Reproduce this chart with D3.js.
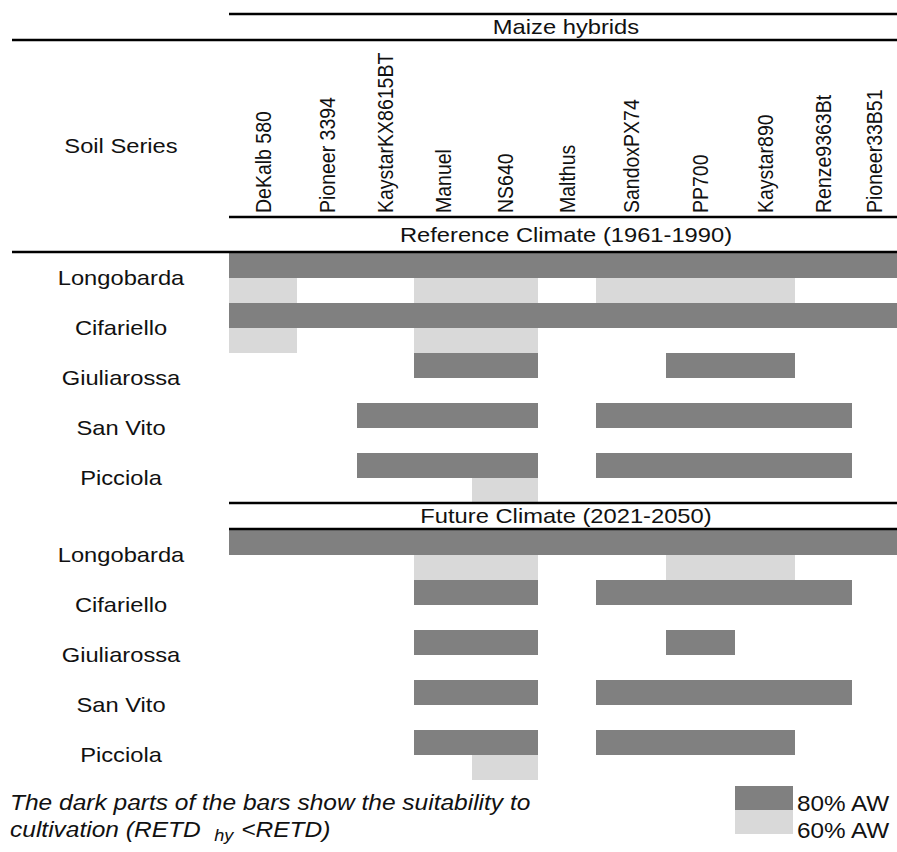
<!DOCTYPE html>
<html>
<head>
<meta charset="utf-8">
<script src="https://cdn.jsdelivr.net/npm/d3@7"></script>
<style>
  html, body { margin: 0; padding: 0; background: #fff; }
  svg { display: block; }
  text { font-family: "Liberation Sans", Arial, Helvetica, sans-serif; fill: #111; }
</style>
</head>
<body>
<svg id="chart" width="897" height="852"></svg>
<script>
// ---------------- DATA ----------------
const hybrids = ["DeKalb 580", "Pioneer 3394", "KaystarKX8615BT", "Manuel", "NS640", "Malthus",
                 "SandoxPX74", "PP700", "Kaystar890", "Renze9363Bt", "Pioneer33B51"];
const soils = ["Longobarda", "Cifariello", "Giuliarossa", "San Vito", "Picciola"];
const climates = ["Reference Climate (1961-1990)", "Future Climate (2021-2050)"];
const headerTitle = "Maize hybrids";
const rowTitle = "Soil Series";
const legendLabels = ["80% AW", "60% AW"];

// suitable hybrid ranges [firstHybridIndex, lastHybridIndex] per soil
const refAW80 = [[[0, 10]], [[0, 10]], [[3, 4], [7, 8]], [[2, 4], [6, 9]], [[2, 4], [6, 9]]];
const refAW60 = [[[0, 0], [3, 4], [6, 8]], [[0, 0], [3, 4]], [], [], [[4, 4]]];
const futAW80 = [[[0, 10]], [[3, 4], [6, 9]], [[3, 4], [7, 7]], [[3, 4], [6, 9]], [[3, 4], [6, 8]]];
const futAW60 = [[[3, 4], [7, 8]], [], [], [], [[4, 4]]];

// ---------------- LAYOUT ----------------
const svg = d3.select("#chart");
const SX = 1.13;               // horizontal text stretch of the original figure
const dark = "#808080", light = "#d9d9d9";
const colEdges = [229, 297, 357, 414, 472, 538, 596, 666, 735, 795, 852, 897];
const x = d3.scaleLinear().domain(d3.range(hybrids.length + 1)).range(colEdges);
const xLeft = 229, xRight = 897, labelX = 121, midX = 566;

const blocks = [
  {name: climates[0], lineTop: 217, lineBot: 252, aw80: refAW80, aw60: refAW60, y0: 253},
  {name: climates[1], lineTop: 503, lineBot: 529, aw80: futAW80, aw60: futAW60, y0: 530}
];

function hText(sel, tx, ty, str, size, anchor, italic) {
  return sel.append("text")
    .attr("transform", `translate(${tx},${ty}) scale(${SX},1)`)
    .attr("text-anchor", anchor || "middle")
    .attr("dy", "0.35em")
    .style("font-size", size + "px")
    .style("font-style", italic ? "italic" : "normal")
    .text(str);
}
function hLine(y, x1, x2) {
  svg.append("line").attr("x1", x1).attr("x2", x2).attr("y1", y).attr("y2", y)
    .attr("stroke", "#000").attr("stroke-width", 2.6);
}

// header
hLine(14, xLeft, xRight);
hText(svg, midX, 27, headerTitle, 21);
hLine(40, 12, xRight);
hText(svg, labelX, 146, rowTitle, 21);

svg.append("g").selectAll("text").data(hybrids).join("text")
  .attr("transform", (d, i) => `translate(${(x(i) + x(i + 1)) / 2},213) scale(${SX},1) rotate(-90)`)
  .attr("dy", "0.35em")
  .style("font-size", "19.5px")
  .text(d => d);

// blocks
blocks.forEach(b => {
  hLine(b.lineTop, xLeft, xRight);
  hText(svg, midX, (b.lineTop + b.lineBot) / 2, b.name, 21);
  const y = d3.scaleBand().domain(soils).range([b.y0, b.y0 + 50 * soils.length]).padding(0);
  const bh = y.bandwidth() / 2;
  const g = svg.append("g");
  const segs = [];
  soils.forEach((s, i) => {
    b.aw80[i].forEach(r => segs.push({soil: s, r, kind: 0}));
    b.aw60[i].forEach(r => segs.push({soil: s, r, kind: 1}));
  });
  g.selectAll("rect").data(segs).join("rect")
    .attr("x", d => x(d.r[0]))
    .attr("width", d => x(d.r[1] + 1) - x(d.r[0]))
    .attr("y", d => y(d.soil) + d.kind * bh)
    .attr("height", bh)
    .attr("fill", d => d.kind === 0 ? dark : light);
  soils.forEach(s => hText(svg, labelX, y(s) + bh, s, 21));
  if (b === blocks[0]) hLine(b.lineBot, 12, xRight);
  else hLine(b.lineBot, xLeft, xRight);
});

// footer note
const note = svg.append("g");
note.append("text")
  .attr("transform", `translate(10,810) scale(${SX},1)`)
  .style("font-size", "21.7px").style("font-style", "italic")
  .text("The dark parts of the bars show the suitability to");
const t2 = note.append("text")
  .attr("transform", `translate(10,837) scale(${SX},1)`)
  .style("font-size", "21.7px").style("font-style", "italic");
t2.append("tspan").text("cultivation (RETD");
t2.append("tspan").attr("dx", 12).attr("dy", 4).style("font-size", "16px").text("hy");
t2.append("tspan").attr("dx", 7).attr("dy", -4).text("<RETD)");

// legend
const lg = svg.append("g");
[dark, light].forEach((c, i) => {
  lg.append("rect").attr("x", 735).attr("y", 786 + i * 24).attr("width", 58).attr("height", 24).attr("fill", c);
  lg.append("text").attr("transform", `translate(797,${811 + i * 27}) scale(${SX},1)`)
    .style("font-size", "21.5px").text(legendLabels[i]);
});
</script>
</body>
</html>
